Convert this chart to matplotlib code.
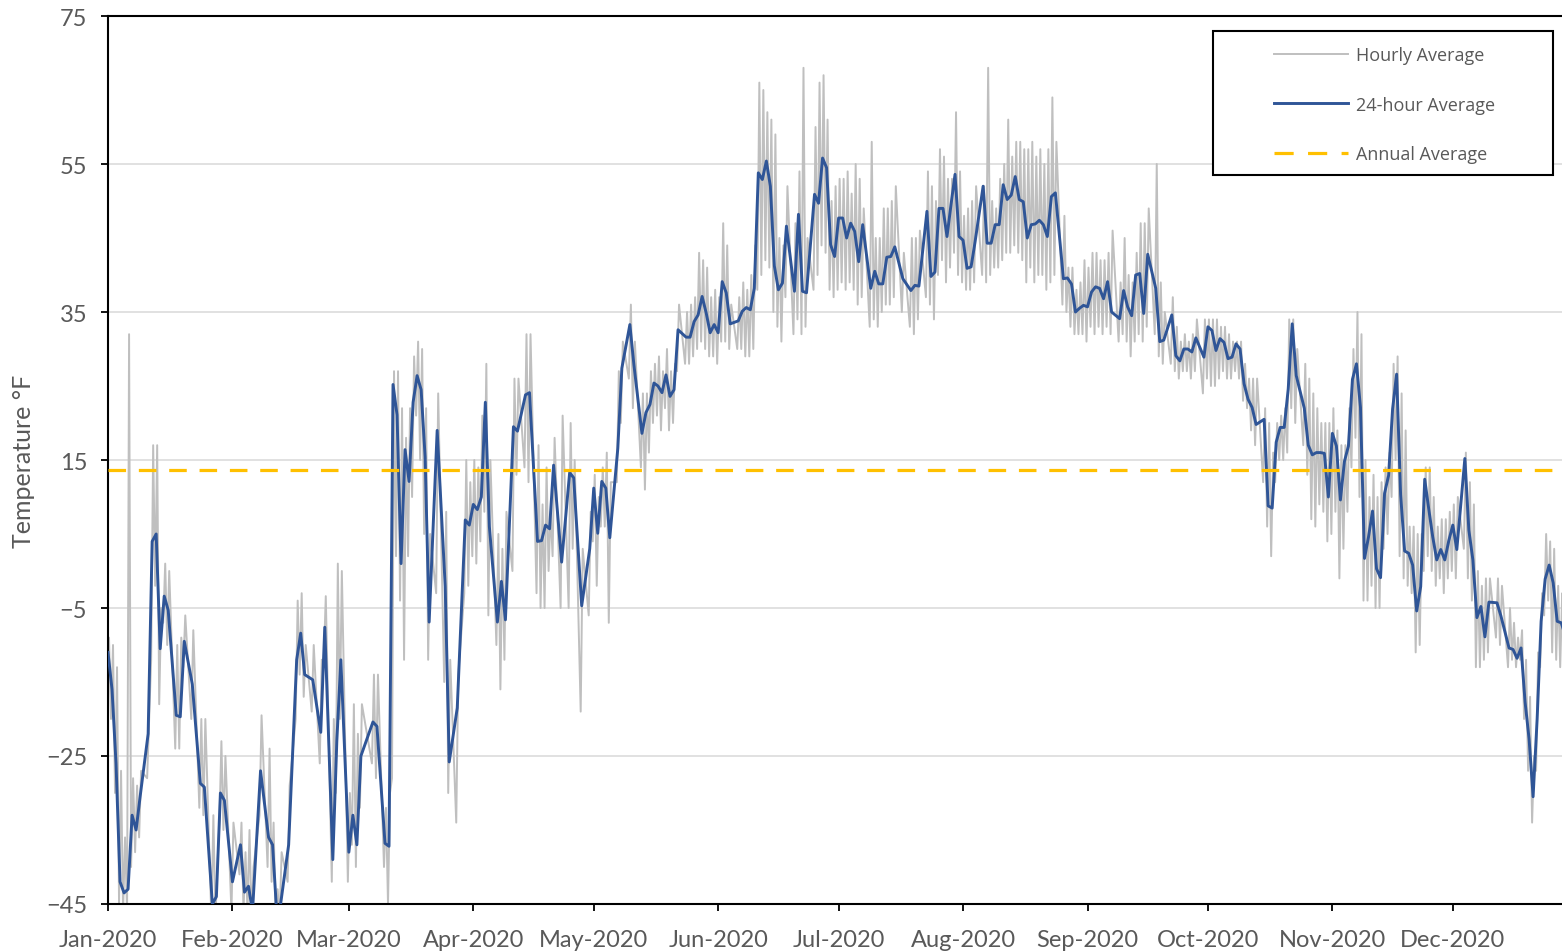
import numpy as np
import matplotlib
matplotlib.use('Agg')
import matplotlib.pyplot as plt
import matplotlib.dates as mdates
from matplotlib.lines import Line2D
from matplotlib.patches import Rectangle
from datetime import datetime

# day of year (0 = Jan 1 2020), 24-hour average, and daily range of hourly values (deg F)
days = [0, 1, 2, 3, 4, 5, 6, 7, 8, 10, 11, 12, 13, 14, 15, 17, 18, 19, 21, 23, 24, 26, 27, 28, 29, 31,
        33, 34, 35, 36, 38, 40, 41, 42, 43, 45, 47, 48, 49, 51, 53, 54, 56, 57, 58, 60, 61, 62, 63, 66,
        67, 69, 70, 71, 72, 73, 74, 75, 76, 77, 78, 79, 80, 82, 84, 85, 87, 89, 90, 91, 92, 93, 94, 95,
        97, 98, 99, 101, 102, 104, 105, 107, 108, 109, 110, 111, 113, 115, 116, 118, 120, 121, 122, 123,
        124, 125, 127, 128, 130, 131, 133, 134, 135, 136, 137, 138, 139, 140, 141, 142, 144, 145, 146,
        147, 148, 149, 150, 151, 152, 153, 154, 155, 157, 158, 159, 160, 161, 162, 163, 164, 165, 166,
        167, 168, 169, 171, 172, 173, 174, 176, 177, 178, 179, 180, 181, 182, 183, 184, 185, 186, 187,
        188, 190, 191, 192, 193, 194, 195, 196, 198, 200, 201, 202, 204, 205, 206, 207, 208, 209, 210,
        211, 212, 213, 214, 215, 216, 218, 219, 220, 221, 222, 223, 224, 225, 226, 227, 228, 229, 230,
        231, 232, 233, 234, 235, 236, 238, 239, 240, 241, 242, 243, 244, 245, 246, 247, 248, 249, 250,
        252, 253, 254, 255, 256, 257, 258, 259, 261, 262, 263, 265, 266, 267, 268, 269, 270, 271, 273,
        274, 275, 276, 277, 278, 279, 280, 281, 282, 283, 284, 285, 286, 288, 289, 290, 291, 292, 293,
        294, 295, 296, 298, 299, 300, 301, 302, 303, 304, 305, 306, 307, 308, 309, 310, 311, 312, 313,
        314, 315, 316, 317, 318, 319, 320, 321, 322, 323, 324, 325, 326, 327, 328, 329, 330, 331, 332,
        333, 334, 335, 336, 338, 339, 340, 341, 342, 343, 344, 346, 347, 349, 350, 351, 352, 353, 354,
        355, 356, 357, 358, 359, 360, 361, 362, 363]

avg24 = [-11, -16, -26, -42, -43.5, -43, -33, -35, -30.5, -22, 4, 5, -10.5, -3.4, -5.3, -19.5, -19.7, -9.5,
         -15.3, -28.7, -29.2, -45, -44, -30, -31, -42, -37, -43.4, -42.6, -46, -27, -36, -37, -46, -45, -37,
         -12, -8.4, -14, -14.7, -21.8, -7.6, -39, -23, -12, -38, -33, -37, -25, -20.4, -21, -36.8, -37.2,
         25.2, 21.1, 1, 16.4, 12.1, 22.8, 26.4, 24.5, 15.4, -6.9, 19, -2.1, -25.8, -18.5, 6.9, 6.2, 9, 8.3,
         10, 22.8, 6, -6.9, -1.4, -6.6, 19.5, 18.9, 23.8, 24.1, 4, 4.1, 6.2, 5.7, 14.3, 1.2, 13.3, 12.6,
         -4.7, 3, 11.2, 5.1, 12.1, 11.2, 4.5, 16.6, 27.4, 33.3, 27.9, 18.6, 21.4, 22.5, 25.4, 25, 24.1,
         26.5, 23.6, 24.5, 32.6, 31.6, 31.6, 33.7, 34.6, 37.1, 34.9, 32.2, 33.3, 32.2, 39.1, 37.6, 33.4,
         33.8, 35.1, 35.6, 35.3, 38.2, 53.8, 52.9, 55.4, 52, 41.2, 38, 38.9, 46.6, 37.8, 48.2, 37.8, 37.6,
         50.9, 49.7, 55.8, 54.5, 44.1, 42.5, 47.7, 47.7, 45, 47, 45.9, 41.8, 46.8, 38.2, 40.5, 38.8, 38.8,
         42.4, 42.5, 43.8, 39.5, 37.9, 38.6, 38.5, 48.6, 39.8, 40.4, 49, 49, 45.2, 49.5, 53.6, 45.2, 44.7,
         40.9, 41.1, 44.5, 52, 44.3, 44.3, 46.8, 46.8, 52.2, 50.2, 50.8, 53.3, 50.2, 49.9, 45, 46.8, 46.9,
         47.4, 46.8, 45.2, 50.6, 51.1, 39.5, 39.6, 38.8, 35, 35.5, 35.9, 35.7, 37.7, 38.4, 38.2, 36.8,
         39.1, 35, 34.1, 37.9, 35.7, 34.5, 40, 40.2, 34.8, 42.8, 38.2, 31, 31.2, 34.6, 29.1, 28.4, 30, 30,
         29.6, 31.5, 28.9, 33, 32.5, 29.8, 31.4, 30.9, 28.7, 28.9, 30.7, 30, 25.3, 23.2, 22.1, 19.8, 20.5,
         8.8, 8.5, 17.4, 19.4, 19.4, 24.6, 33.4, 26.4, 22, 17, 15.7, 16, 16, 15.9, 10, 18.6, 16.9, 9.6,
         14.8, 16.9, 25.9, 28, 22.1, 1.7, 4.6, 8.1, 0.3, -0.9, 10.5, 12.9, 21.9, 26.6, 10.3, 2.7, 2.4, 0.8,
         -5.4, -2.1, 12.4, 8.4, 4.6, 1.5, 2.9, 1.5, 4.1, 6.2, 2.9, 15.2, 5.5, 1.5, -6.3, -4.8, -8.9, -4.2,
         -4.3, -6.1, -10.4, -10.6, -11.8, -10.4, -17.7, -22.7, -30.5, -20.1, -6.8, -1.1, 0.8, -1.6, -6.8,
         -7, -8.7]

hourly_lo = [-14, -20, -30, -45, -46, -46, -40, -38, -36, -28, -12, -2, -18, -7, -10, -24, -24, -13, -20,
             -32, -33, -47, -47, -34, -35, -46, -41, -46, -46, -47, -33, -40, -42, -47, -47, -42, -20, -14,
             -17, -19, -26, -12, -42, -30, -20, -42, -37, -40, -32, -26, -28, -40, -45, -28, 2, -4, -12, 2,
             10, 21, 15, 5, -12, -3, -15, -30, -34, -3, -2, 2, 1, 4, 8, -6, -10, -16, -12, 0, 13, 14, 12,
             -3, -5, -5, 0, 2, -5, -5, 3, -19, -6, 4, -2, 6, 6, -7, 12, 20, 26, 22, 14, 11, 16, 20, 21, 19,
             22, 19, 20, 27, 28, 28, 29, 30, 31, 30, 29, 29, 28, 31, 31, 30, 30, 30, 29, 29, 30, 38, 40, 42,
             41, 35, 33, 31, 37, 32, 34, 32, 33, 38, 40, 44, 43, 38, 37, 38, 39, 38, 39, 38, 36, 37, 33, 34,
             33, 35, 36, 36, 37, 35, 33, 32, 34, 37, 36, 34, 40, 42, 39, 41, 43, 40, 39, 38, 38, 39, 40, 39,
             40, 41, 41, 42, 43, 43, 44, 43, 42, 39, 41, 39, 40, 40, 38, 39, 40, 36, 35, 33, 32, 32, 32, 31,
             33, 32, 33, 32, 33, 32, 31, 32, 31, 29, 31, 32, 31, 33, 32, 29, 28, 28, 27, 26, 27, 27, 26, 27,
             24, 26, 25, 25, 26, 27, 26, 26, 27, 26, 23, 22, 19, 17, 12, 6, 2, 12, 15, 15, 16, 22, 20, 17,
             13, 7, 6, 9, 8, 4, 5, 8, -1, 3, 8, 14, 18, 10, -4, -4, -2, -5, -5, 3, 5, 10, 15, 2, -1, -2, -3,
             -11, -10, 0, 2, 0, -2, -1, -3, -1, 0, -1, 3, -1, -4, -13, -13, -12, -11, -9, -10, -13, -12, -13,
             -12, -20, -27, -34, -27, -13, -6, -4, -11, -12, -13, -12]

hourly_hi = [-9, -10, -13, -27, -36, 32, -28, -29, -27, -20, 17, 17, -5, 1, 0, -10, -9, -6, -8, -20, -20,
             -33, -40, -23, -25, -34, -34, -38, -35, -40, -19.5, -24, -34, -43, -38, -29, -4, -3, -10, -10,
             -12, -3.4, -20, 1, 0, -30, -18, -22, -18, -14, -14, -32, -30, 27, 27, 22, 18, 22, 29, 31, 30,
             22, 5, 24, 8, -12, -14, 15, 12, 15, 14, 21, 28, 15, 5, 3, 8, 26, 26, 32, 32, 17, 9, 14, 8, 18,
             21, 20, 15, 3, 8, 13, 10, 14, 16, 12, 27, 31, 36, 31, 24, 24, 27, 28, 29, 27, 30, 27, 28, 36,
             35, 36, 37, 43, 42, 41, 37, 38, 37, 47, 44, 36, 37, 39, 38, 40, 44, 66, 65, 62, 61, 59, 45, 44,
             52, 47, 54, 68, 45, 60, 66, 67, 61, 50, 52, 53, 53, 54, 51, 55, 53, 49, 58, 45, 45, 49, 49, 50,
             52, 43, 45, 45, 46, 54, 52, 50, 57, 56, 53, 53, 62, 54, 48, 49, 50, 52, 52, 68, 50, 49, 53, 55,
             61, 56, 58, 58, 57, 57, 58, 56, 57, 55, 57, 64, 58, 48, 41, 41, 38, 39, 42, 41, 43, 43, 42, 42,
             43, 46, 39, 45, 40, 39, 43, 47, 47, 49, 55, 39, 35, 37, 33, 31, 32, 31, 32, 34, 34, 34, 34, 34,
             33, 33, 32, 31, 31, 31, 28, 26, 26, 26, 22, 20, 16, 20, 21, 22, 34, 34, 30, 28, 26, 24, 22, 20,
             20, 20, 22, 19, 17, 17, 22, 30, 35, 32, 15, 10, 13, 10, 12, 14, 16, 28, 29, 24, 19, 6, 6, 5, 5,
             14, 14, 10, 6, 7, 7, 8, 9, 10, 16, 12, 9, 0, -2, -1, -1, -1, -2, -5, -7, -9, -8, -12, -17, -25,
             -11, -3, 5, 4, 3, -2, -3, -4]

annual_avg = 13.7

month_labels = ['Jan-2020', 'Feb-2020', 'Mar-2020', 'Apr-2020', 'May-2020', 'Jun-2020',
                'Jul-2020', 'Aug-2020', 'Sep-2020', 'Oct-2020', 'Nov-2020', 'Dec-2020']

GRAY = '#BFBFBF'
BLUE = '#2F5597'
GOLD = '#FFC000'
TEXT = '#595959'

start = mdates.date2num(datetime(2020, 1, 1))
d = np.array(days, dtype=float)
x_avg = start + d

# hourly trace: go through each day's low and high
x_hr = np.column_stack([d - 0.25, d + 0.25]).ravel() + start
y_hr = np.column_stack([hourly_lo, hourly_hi]).ravel()

fig = plt.figure(figsize=(15.62, 9.53), dpi=100)
ax = fig.add_axes([108 / 1562, 48 / 953, 1454 / 1562, 888 / 953])

ax.plot(x_hr, y_hr, color=GRAY, linewidth=1.4, zorder=2)
ax.plot(x_avg, avg24, color=BLUE, linewidth=2.1, zorder=3)
ax.axhline(annual_avg, color=GOLD, linewidth=2.3, dashes=(5.5, 4), zorder=4)

ax.set_xlim(start, start + 362.2)
ax.set_ylim(-45, 75)
ax.set_yticks(np.arange(-45, 76, 20))

month_starts = [mdates.date2num(datetime(2020, m, 1)) for m in range(1, 13)]
ax.set_xticks(month_starts)
ax.set_xticklabels(month_labels)

ax.grid(axis='y', color='#D9D9D9', linewidth=1.1, zorder=1)
ax.set_axisbelow(True)

for side in ['left', 'bottom', 'top']:
  ax.spines[side].set_linewidth(1.5)
  ax.spines[side].set_color('black')
ax.spines['right'].set_visible(False)

ax.tick_params(axis='both', direction='out', length=5, width=1.3, color='black',
               labelcolor=TEXT, labelsize=17)
ax.tick_params(axis='x', pad=13)
ax.tick_params(axis='y', pad=10)
for lab in ax.get_xticklabels() + ax.get_yticklabels():
  lab.set_family('Lato')

ax.set_ylabel('Temperature °F', fontsize=18, color=TEXT, family='Lato', labelpad=8)

handles = [Line2D([], [], color=GRAY, linewidth=1.4),
           Line2D([], [], color=BLUE, linewidth=2.1),
           Line2D([], [], color=GOLD, linewidth=2.3, dashes=(6, 4.5))]
labels = ['Hourly Average', '24-hour Average', 'Annual Average']
leg = fig.legend(handles, labels, loc='upper left', bbox_to_anchor=(1274 / 1562, 1 - 47 / 953),
                 frameon=False, prop={'family': 'Open Sans', 'size': 13}, labelcolor=TEXT,
                 handlelength=4.1, handletextpad=0.45, labelspacing=1.75, borderpad=0, borderaxespad=0)
fig.patches.append(Rectangle((1213 / 1562, 1 - 176 / 953), 340 / 1562, 144 / 953,
                             transform=fig.transFigure, fill=True, facecolor='white',
                             edgecolor='black', linewidth=1.5, zorder=5))
leg.set_zorder(6)

fig.savefig('out.png', dpi=100)
